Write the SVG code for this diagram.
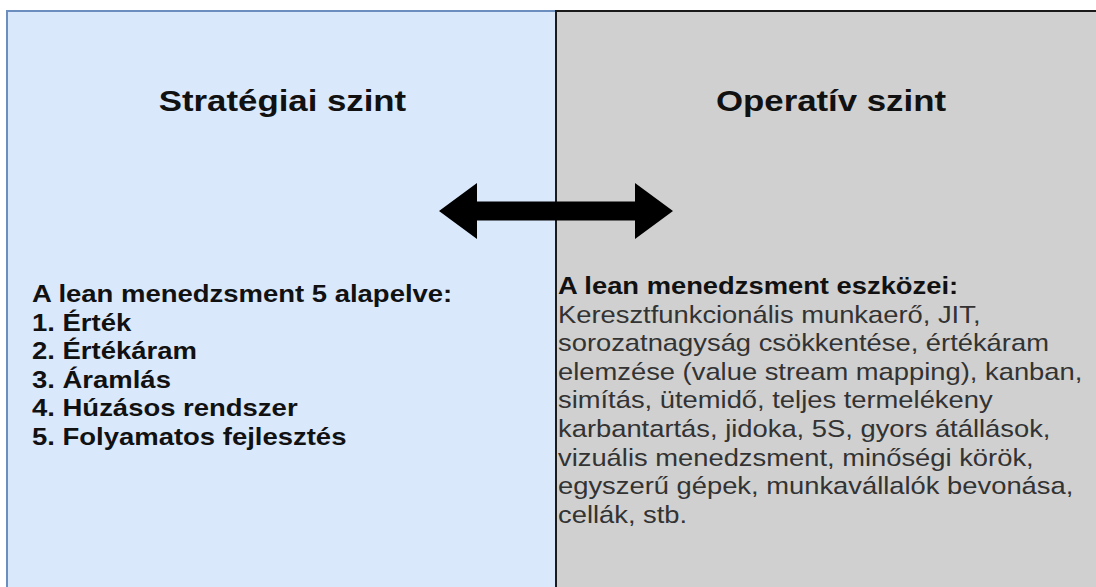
<svg xmlns="http://www.w3.org/2000/svg" width="1096" height="587" viewBox="0 0 1096 587">
  <style>
    .title { font-family: "Liberation Sans", Arial, sans-serif; font-weight: bold; font-size: 29px; fill: #111; }
    .head { font-family: "Liberation Sans", Arial, sans-serif; font-weight: bold; font-size: 24px; fill: #111; }
    .body { font-family: "Liberation Sans", Arial, sans-serif; font-size: 24px; fill: #333; }
  </style>
  <rect width="1096" height="587" fill="#ffffff"/>

  <!-- strategic level -->
  <g id="strategic">
    <rect x="7" y="11" width="549" height="600" fill="#dae8fc" stroke="#6c8ebf" stroke-width="2"/>
    <g transform="translate(282.5,0) scale(1.2,1)">
      <text class="title" x="0" y="111" text-anchor="middle">Stratégiai szint</text>
    </g>
    <g transform="translate(32,0) scale(1.145,1)">
      <text class="head" x="0" y="302">A lean menedzsment 5 alapelve:</text>
      <text class="head" x="0" y="330.6">1. Érték</text>
      <text class="head" x="0" y="359.2">2. Értékáram</text>
      <text class="head" x="0" y="387.8">3. Áramlás</text>
      <text class="head" x="0" y="416.4">4. Húzásos rendszer</text>
      <text class="head" x="0" y="445">5. Folyamatos fejlesztés</text>
    </g>
  </g>

  <!-- operative level -->
  <g id="operative">
    <rect x="556" y="11" width="600" height="600" fill="#d0d0d0" stroke="#1a1a1a" stroke-width="2"/>
    <g transform="translate(831,0) scale(1.2,1)">
      <text class="title" x="0" y="111" text-anchor="middle">Operatív szint</text>
    </g>
    <g transform="translate(558,0) scale(1.14,1)">
      <text class="head" x="0" y="294">A lean menedzsment eszközei:</text>
      <text class="body" x="0" y="322.6">Keresztfunkcionális munkaerő, JIT,</text>
      <text class="body" x="0" y="351.2">sorozatnagyság csökkentése, értékáram</text>
      <text class="body" x="0" y="379.8">elemzése (value stream mapping), kanban,</text>
      <text class="body" x="0" y="408.4">simítás, ütemidő, teljes termelékeny</text>
      <text class="body" x="0" y="437">karbantartás, jidoka, 5S, gyors átállások,</text>
      <text class="body" x="0" y="465.6">vizuális menedzsment, minőségi körök,</text>
      <text class="body" x="0" y="494.2">egyszerű gépek, munkavállalók bevonása,</text>
      <text class="body" x="0" y="522.8">cellák, stb.</text>
    </g>
  </g>

  <!-- connectors -->
  <g id="connectors">
    <path d="M439,211 L477,183 L477,201.5 L635,201.5 L635,183 L673,211 L635,239 L635,220.5 L477,220.5 L477,239 Z" fill="#000"/>
  </g>
</svg>
